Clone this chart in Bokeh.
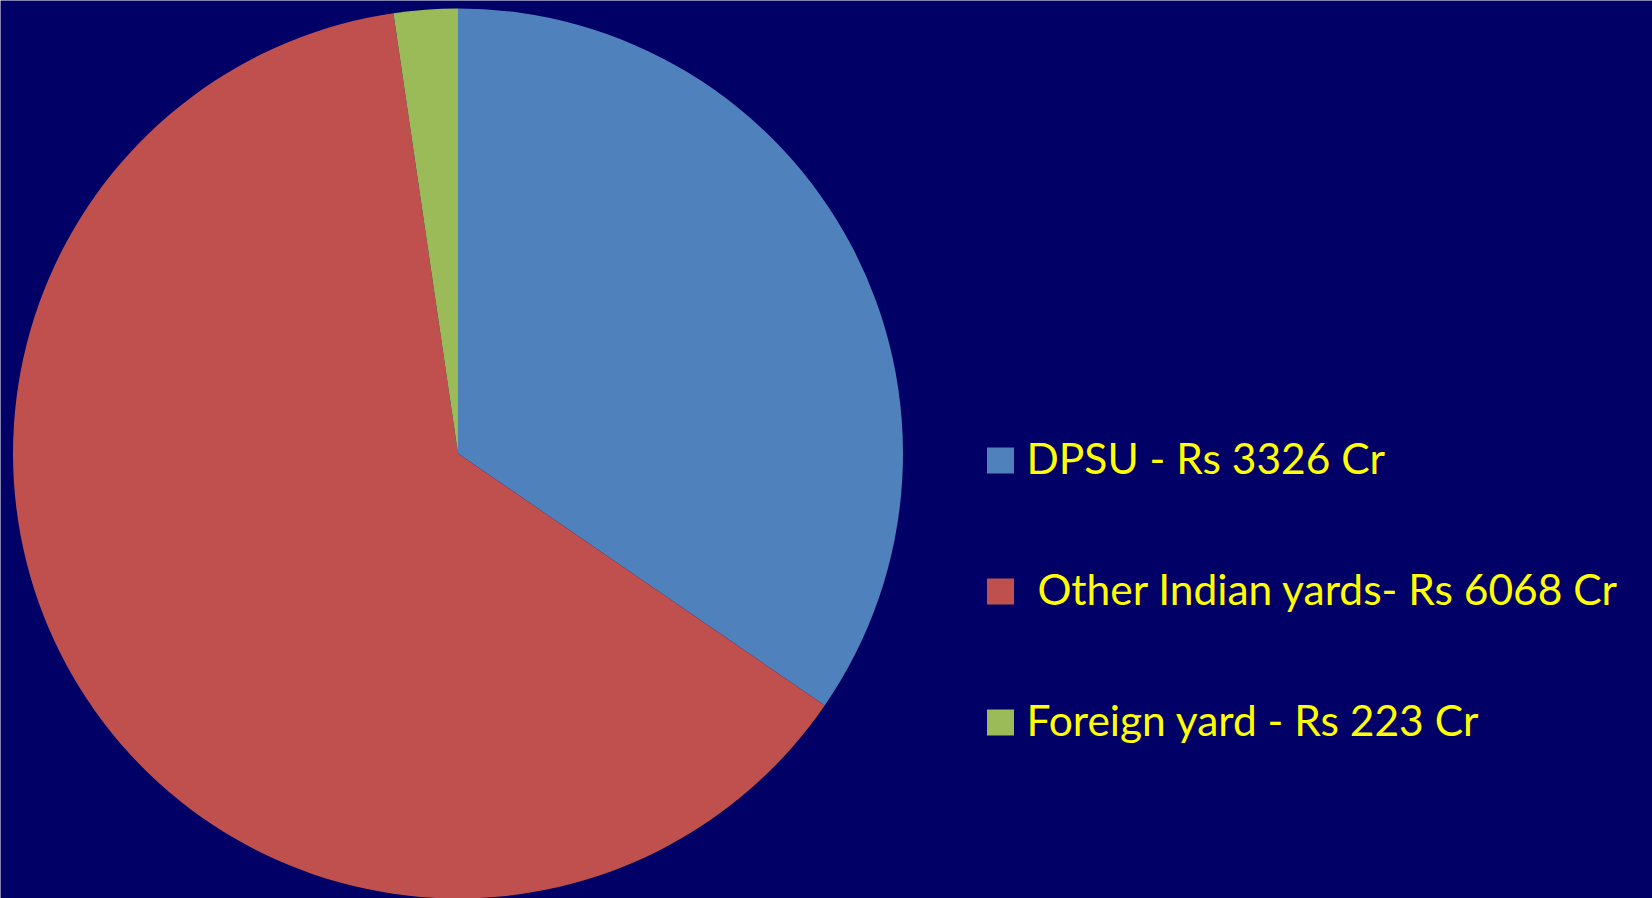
import numpy as np
from bokeh.plotting import figure
from bokeh.models import Range1d
from bokeh.core.properties import value
from bokeh.embed import file_html
from bokeh.resources import INLINE

categories = ["DPSU - Rs 3326 Cr", "\u00a0Other Indian yards- Rs 6068 Cr", "Foreign yard - Rs 223 Cr"]
values = [3326, 6068, 223]
colors = ["#4F81BD", "#C0504D", "#9BBB59"]

W, H = 1652, 898
p = figure(width=W, height=H, output_backend="svg", toolbar_location=None,
           x_range=Range1d(0, W), y_range=Range1d(0, H),
           background_fill_color="#000066", border_fill_color="#000066",
           min_border=0, outline_line_color=None)
p.axis.visible = False
p.grid.visible = False

vals = np.array(values, dtype=float)
frac = vals / vals.sum()
cum = np.concatenate([[0], np.cumsum(frac)])
start = np.pi / 2 - cum[1:] * 2 * np.pi
end = np.pi / 2 - cum[:-1] * 2 * np.pi

cx, cy, r = 457.5, H - 453, 445
p.wedge(x=cx, y=cy, radius=r, start_angle=start, end_angle=end,
        fill_color=colors, line_color=None)

ly = np.array([H - 460, H - 591, H - 722])
p.rect(x=[1000] * 3, y=ly, width=27, height=26, fill_color=colors, line_color=None)
p.text(x=[1026, 1026, 1026], y=ly + 3, text=categories, text_color="#FFFF00",
       text_font=value("Lato"), text_font_size="42.5px", text_baseline="middle",
       text_align="left")

open("out.html", "w").write(file_html(p, INLINE))
